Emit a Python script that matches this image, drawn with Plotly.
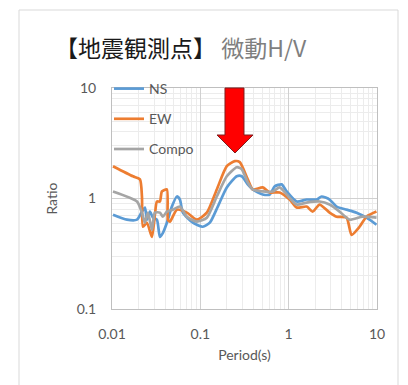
import plotly.graph_objects as go

# ---- data ----
ns_period = [0.01026, 0.01477, 0.01917, 0.02183, 0.02360, 0.02486, 0.02688, 0.02906, 0.03225, 0.03486,
             0.03771, 0.04182, 0.04764, 0.05426, 0.05868, 0.06344, 0.08229, 0.1067, 0.1281, 0.1576,
             0.1993, 0.2585, 0.2944, 0.3441, 0.3919, 0.5084, 0.6100, 0.6948, 0.8335, 0.9493,
             1.231, 1.597, 2.072, 2.360, 2.906, 3.486, 4.523, 5.868, 7.610, 9.872]
ns_ratio = [0.714, 0.643, 0.643, 0.761, 0.828, 0.643, 0.761, 0.671, 0.643, 0.450,
            0.489, 0.604, 0.845, 1.043, 0.979, 0.745, 0.604, 0.555, 0.604, 0.845,
            1.260, 1.588, 1.588, 1.342, 1.208, 1.088, 1.088, 1.287, 1.342, 1.158,
            0.939, 0.979, 0.979, 1.043, 0.979, 0.845, 0.793, 0.745, 0.671, 0.579]

ew_period = [0.01026, 0.01727, 0.02072, 0.02183, 0.02240, 0.02486, 0.02831, 0.03061, 0.03225, 0.03486,
             0.03673, 0.04182, 0.04293, 0.04523, 0.05426, 0.07040, 0.09130, 0.1184, 0.1536, 0.1993,
             0.2454, 0.2795, 0.3441, 0.3919, 0.5084, 0.6100, 0.7911, 1.026, 1.231, 1.597,
             1.867, 2.240, 2.906, 3.486, 4.523, 5.151, 6.344, 7.610, 9.872]
ew_ratio = [1.960, 1.588, 1.491, 1.043, 0.555, 0.604, 0.450, 0.714, 0.939, 0.939,
            1.158, 1.208, 0.643, 0.617, 0.793, 0.745, 0.643, 0.745, 1.208, 1.960,
            2.177, 2.132, 1.491, 1.208, 1.260, 1.134, 1.134, 0.979, 0.828, 0.845,
            0.761, 0.882, 0.745, 0.685, 0.671, 0.469, 0.555, 0.685, 0.761]

compo_period = [0.01026, 0.01917, 0.02183, 0.02360, 0.02551, 0.02831, 0.03061, 0.03486, 0.03771, 0.04182,
                0.04890, 0.05868, 0.07040, 0.09130, 0.1184, 0.1536, 0.1993, 0.2585, 0.2944, 0.3441,
                0.3919, 0.5084, 0.6595, 0.7911, 0.9493, 1.231, 1.597, 2.240, 2.906, 3.771,
                4.890, 6.860, 9.872]
compo_ratio = [1.158, 0.939, 0.745, 0.604, 0.745, 0.521, 0.745, 0.745, 0.685, 0.761,
               0.793, 0.845, 0.685, 0.617, 0.671, 1.043, 1.588, 1.919, 1.840, 1.400,
               1.208, 1.158, 1.158, 1.260, 1.088, 0.882, 0.919, 0.939, 0.882, 0.761,
               0.643, 0.685, 0.671]

x_ticks = [0.01, 0.1, 1, 10]
x_tick_labels = ["0.01", "0.1", "1", "10"]
y_ticks = [0.1, 1, 10]
y_tick_labels = ["0.1", "1", "10"]

series = [
    ("NS", ns_period, ns_ratio, "#5b9bd5"),
    ("EW", ew_period, ew_ratio, "#ed7d31"),
    ("Compo", compo_period, compo_ratio, "#a5a5a5"),
]

FONT = "Lato, 'Noto Sans', sans-serif"
TXT = "#595959"

fig = go.Figure()
for name, xs, ys, col in series:
    fig.add_trace(go.Scatter(
        x=xs, y=ys, name=name, mode="lines", legendgroup=name,
        line=dict(color=col, width=2.7, shape="spline", smoothing=0.6),
    ))

# page offset of the plot div (body margin)
OFF = 8
W, H = 408 - OFF, 385 - OFF
# plot area in reference pixels
L, R, T, B = 112, 377, 88, 309

def px(x):
    return (x - L) / (R - L)

def py(y):
    return (B - y) / (B - T)

# red arrow
arrow = [(225, 88), (244, 88), (244, 135), (253, 135), (235, 153), (217, 135), (225, 135)]
path = "M " + " L ".join(f"{px(a):.4f},{py(b):.4f}" for a, b in arrow) + " Z"
fig.add_shape(type="path", path=path, xref="paper", yref="paper",
              fillcolor="#ff0000", line=dict(color="#7f1f1f", width=1), layer="above")

# chart border
fig.add_shape(type="rect", xref="paper", yref="paper",
              x0=px(19), x1=px(398), y0=py(10), y1=py(400),
              line=dict(color="#d9d9d9", width=1), layer="below")

axis_common = dict(
    type="log", showline=True, linecolor="#bfbfbf", linewidth=1, mirror=True,
    showgrid=True, gridcolor="#d0d0d0", gridwidth=1, zeroline=False,
    ticks="", tickfont=dict(family=FONT, size=14, color=TXT),
    minor=dict(showgrid=True, gridcolor="#ececec", gridwidth=1, dtick="D1"),
)

fig.update_layout(
    width=W, height=H,
    margin=dict(l=L - OFF, r=W - (R - OFF), t=T - OFF, b=H - (B - OFF)),
    paper_bgcolor="white", plot_bgcolor="white",
    title=dict(
        text="<span style='color:#1a1a1a'>【地震観測点】</span> <span style='color:#7f7f7f'>微動H/V</span>",
        x=(55 - OFF) / W, xanchor="left", y=1 - (49 - OFF) / H, yanchor="middle",
        font=dict(family="'Noto Sans CJK JP'", size=23),
    ),
    showlegend=True,
    legend=dict(x=px(109), y=py(73), xanchor="left", yanchor="top", bgcolor="rgba(0,0,0,0)",
                font=dict(family=FONT, size=14, color=TXT), tracegroupgap=9,
                itemwidth=30),
    xaxis=dict(**axis_common, range=[-2, 1], tickvals=x_ticks, ticktext=x_tick_labels,
               ticklabelstandoff=12,
               title=dict(text="Period(s)", font=dict(family=FONT, size=14, color=TXT), standoff=9)),
    yaxis=dict(**axis_common, range=[-1, 1], tickvals=y_ticks, ticktext=y_tick_labels,
               ticklabelstandoff=12,
               title=dict(text="Ratio", font=dict(family=FONT, size=14, color=TXT), standoff=15)),
)

fig.write_html("out.html")
